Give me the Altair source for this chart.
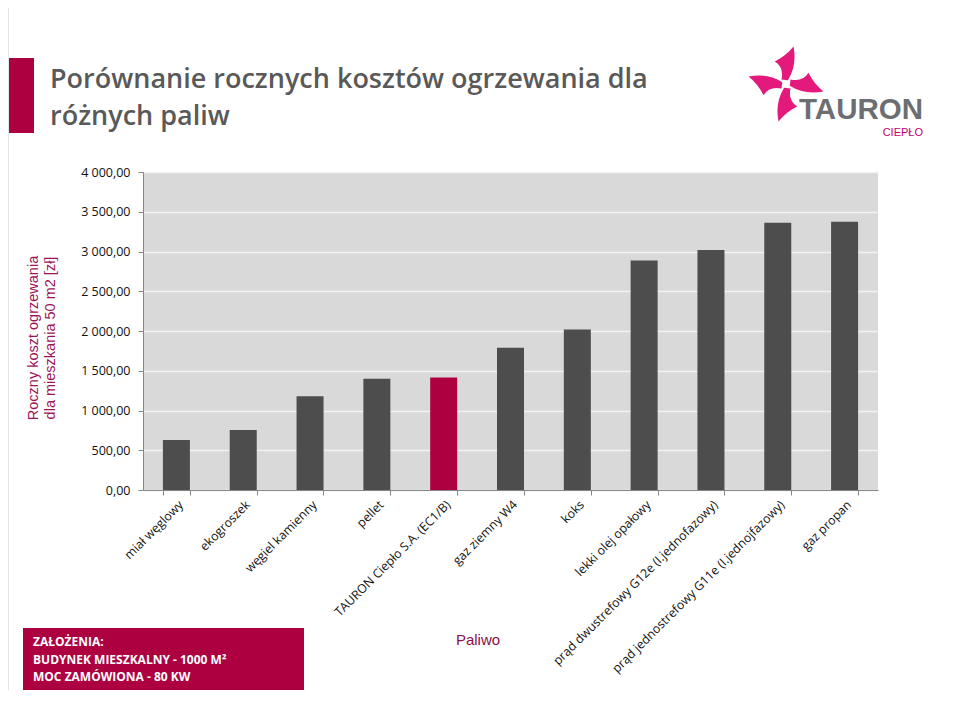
import altair as alt
import pandas as pd
import math

# ---- data ----
fuels = [
    "miał węglowy", "ekogroszek", "węgiel kamienny", "pellet",
    "TAURON Ciepło S.A. (EC1/B)", "gaz ziemny W4", "koks",
    "lekki olej opałowy", "prąd dwustrefowy G12e (I.jednofazowy)",
    "prąd jednostrefowy G11e (I.jednojfazowy)", "gaz propan",
]
costs = [630, 756, 1179, 1398, 1414, 1788, 2019, 2888, 3018, 3363, 3375]
highlight = [False, False, False, False, True, False, False, False, False, False, False]
y_ticks = [0, 500, 1000, 1500, 2000, 2500, 3000, 3500, 4000]

title_lines = ["Porównanie rocznych kosztów ogrzewania dla", "różnych paliw"]
y_title_lines = ["Roczny koszt ogrzewania", "dla mieszkania  50 m2 [zł]"]
note_lines = ["ZAŁOŻENIA:", "BUDYNEK MIESZKALNY - 1000 M²", "MOC ZAMÓWIONA - 80 KW"]

RED = "#ad0041"
BAR = "#4d4d4d"

# view origin in page coordinates
OX, OY = 143, 172
W, H = 735, 318

df = pd.DataFrame({"fuel": fuels, "cost": costs, "hl": highlight})

label_expr = "replace(replace(format(datum.value, ',.2f'), ',', ' '), '.', ',')"

bars = alt.Chart(df).mark_bar(size=27).encode(
    x=alt.X("fuel:N", sort=fuels, title=None,
            scale=alt.Scale(paddingInner=0.6, paddingOuter=0.3),
            axis=alt.Axis(labelAngle=-45, labelFont="Open Sans", labelFontSize=12.3,
                          labelColor="#111111", tickBand="extent", tickSize=5,
                          tickColor="#868686", domainColor="#868686", grid=False,
                          labelPadding=3, labelLimit=400)),
    y=alt.Y("cost:Q", title=None,
            scale=alt.Scale(domain=[0, 4000], nice=False),
            axis=alt.Axis(values=y_ticks, labelExpr=label_expr, labelFont="Open Sans",
                          labelFontSize=12.5, labelColor="#111111", tickSize=5,
                          tickColor="#868686", domainColor="#868686",
                          gridColor="#f2f2f2", gridWidth=1.5, labelPadding=8)),
    color=alt.Color("hl:N", scale=alt.Scale(domain=[False, True], range=[BAR, RED]),
                    legend=None),
)

def P(x, y):
    return x - OX, y - OY

def rect(x1, y1, x2, y2, color):
    a, b = P(x1, y1)
    c, d = P(x2, y2)
    return alt.Chart(pd.DataFrame({"k": [0]})).mark_rect(color=color).encode(
        x=alt.value(a), x2=alt.value(c), y=alt.value(b), y2=alt.value(d))

def text(t, x, y, **kw):
    a, b = P(x, y)
    return alt.Chart(pd.DataFrame({"t": [t]})).mark_text(**kw).encode(
        text="t:N", x=alt.value(a), y=alt.value(b))

# slide frame (visible part)
frame = [
    rect(8, 8, 9, 707, "#e6e6e6"),
    rect(8, 706, 952, 707, "#eeeeee"),
]

side_bar = rect(9, 58, 34, 133, RED)
title = text(title_lines, 50, 88, align="left", baseline="alphabetic",
             font="Open Sans", fontSize=27, fontWeight=600, color="#595959",
             lineHeight=37)

y_title = text(y_title_lines, 38, 338, angle=270, align="center",
               baseline="alphabetic", font="Liberation Sans", fontSize=14.5,
               color="#9b1458", lineHeight=17)

x_title = text("Paliwo", 478, 645, align="center", baseline="alphabetic",
               font="Liberation Sans", fontSize=15, color="#8a1045")

note_box = rect(23, 628, 304, 692, RED)
note = text(note_lines, 33, 646, align="left", baseline="alphabetic",
            font="Open Sans", fontSize=12, fontWeight="bold", color="white",
            lineHeight=17.5)

# logo
tauron = text("TAURON", 923, 119, align="right", baseline="alphabetic",
              font="Liberation Sans", fontSize=29.5, fontWeight="bold", color="#6d6e71")
cieplo = text("CIEPŁO", 923, 136, align="right", baseline="alphabetic",
              font="Liberation Sans", fontSize=11, color="#c4006c")

base = [(0.05, -0.1), (0.3, -0.5), (0.2, -1.0), (0.0, -0.75), (-0.3, -0.6),
        (-0.05, -0.45), (-0.12, -0.12)]

def rot(pts, k):
    ang = k * math.pi / 2
    c, s = math.cos(ang), math.sin(ang)
    return [(x * c - y * s, x * s + y * c) for x, y in pts]

path = ""
for k in range(4):
    p = rot(base, k)
    path += "M{:.3f} {:.3f} Q{:.3f} {:.3f} {:.3f} {:.3f} Q{:.3f} {:.3f} {:.3f} {:.3f} Q{:.3f} {:.3f} {:.3f} {:.3f} Z ".format(
        p[0][0], p[0][1], p[1][0], p[1][1], p[2][0], p[2][1],
        p[3][0], p[3][1], p[4][0], p[4][1], p[5][0], p[5][1], p[6][0], p[6][1])

sx, sy = P(786, 84)
star = alt.Chart(pd.DataFrame({"k": [0]})).mark_point(
    shape=path.strip(), filled=True, color="#e3197b", opacity=1, size=5600,
    strokeWidth=0).encode(x=alt.value(sx), y=alt.value(sy))

chart = alt.layer(
    *frame, bars, side_bar, title, y_title, x_title, note_box, note, tauron, cieplo, star
).properties(
    width=W, height=H,
    padding={"left": OX - 8, "top": OY - 8, "right": 60, "bottom": 200},
    autosize=alt.AutoSizeParams(type="none"),
    background="white",
).configure_view(fill="#d9d9d9", stroke=None).configure_axis(domainWidth=1)

chart.save("out.html", embed_options={"renderer": "svg", "actions": False})
